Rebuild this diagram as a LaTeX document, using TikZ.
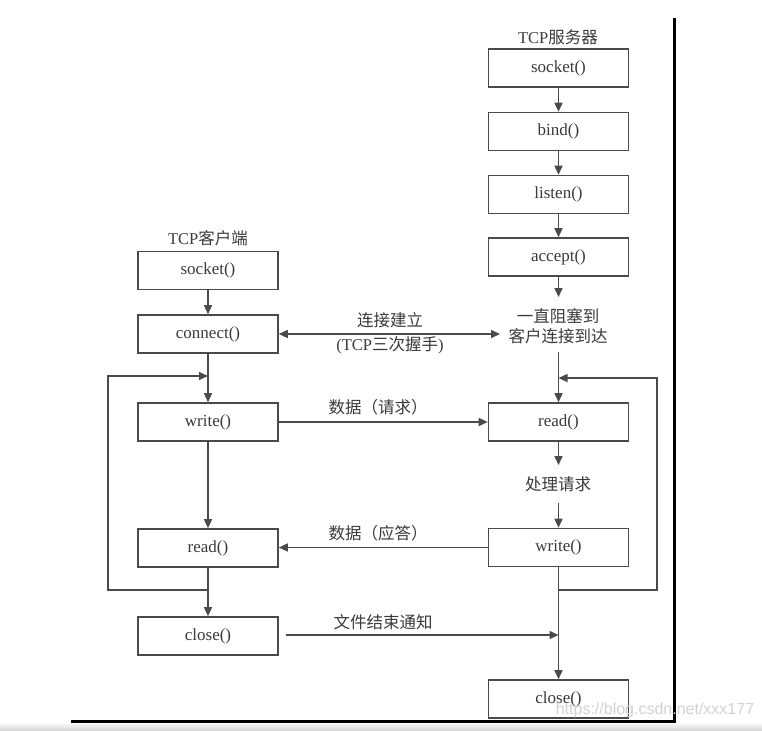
\documentclass[tikz,border=0pt]{standalone}
\usepackage{fontspec}
\setmainfont{Liberation Serif}
\newfontfamily\cjk{Noto Sans CJK SC}
\newfontfamily\wmfont{Liberation Sans}
\usetikzlibrary{arrows.meta}
\definecolor{ink}{HTML}{3A3A3A}
\definecolor{ln}{HTML}{4A4A4A}
\begin{document}
\begin{tikzpicture}[x=1pt,y=-1pt,
  fnbox/.style={draw=ln,line width=1.6pt,minimum width=140pt,minimum height=38pt,inner sep=0pt,text=ink,font=\fontsize{17}{19}\selectfont},
  lbl/.style={text=ink,inner sep=1pt,font=\fontsize{16.5}{20}\selectfont,align=center},
  conn/.style={draw=ln,line width=1.5pt},
  arr/.style={conn,-{Triangle[length=9pt,width=8pt]}},
  darr/.style={conn,{Triangle[length=9pt,width=8pt]}-{Triangle[length=9pt,width=8pt]}}
]
\useasboundingbox (0,0) rectangle (762,730);
\fill[white] (0,0) rectangle (762,730);
\shade[top color=gray!8,bottom color=gray!30] (0,724) rectangle (762,730);

% frame lines
\coordinate (fA) at (72,721);
\coordinate (fB) at (674,721);
\coordinate (fC) at (674,20);
\draw[line width=3pt,black,line cap=rect] (fA) -- (fB) -- (fC);

% server
\node[lbl] (stitle) at (558,37) {TCP{\cjk 服务器}};
\node[fnbox] (ssocket) at (558.5,68) {socket()};
\node[fnbox] (sbind) at (558.5,131.5) {bind()};
\node[fnbox] (slisten) at (558.5,194.5) {listen()};
\node[fnbox] (saccept) at (558.5,257) {accept()};
\node[lbl] (sblock) at (558,326) {\cjk 一直阻塞到\\\cjk 客户连接到达};
\node[fnbox] (sread) at (558.5,422) {read()};
\node[lbl] (sproc) at (558,484) {\cjk 处理请求};
\node[fnbox] (swrite) at (558.5,547.5) {write()};
\node[fnbox] (sclose) at (558.5,699) {close()};

% client
\node[lbl] (ctitle) at (208,238) {TCP{\cjk 客户端}};
\node[fnbox] (csocket) at (208,270.5) {socket()};
\node[fnbox] (cconnect) at (208,334) {connect()};
\node[fnbox] (cwrite) at (208,422) {write()};
\node[fnbox] (cread) at (208,548) {read()};
\node[fnbox] (cclose) at (208,636) {close()};

% server vertical flow
\draw[arr] (ssocket) -- (sbind);
\draw[arr] (sbind) -- (slisten);
\draw[arr] (slisten) -- (saccept);
\coordinate (sa1) at (558.5,297);
\draw[arr] (saccept) -- (sa1);
\coordinate (sa2) at (558.5,352);
\draw[arr] (sa2) -- (sread);
\coordinate (sp1) at (558.5,465);
\draw[arr] (sread) -- (sp1);
\coordinate (sp2) at (558.5,503);
\draw[arr] (sp2) -- (swrite);
\draw[arr] (swrite) -- (sclose);

% server loop
\coordinate (sl0) at (558.5,590);
\coordinate (sl1) at (657,590);
\coordinate (sl2) at (657,378);
\coordinate (sl3) at (558.5,378);
\draw[arr] (sl0) -- (sl1) -- (sl2) -- (sl3);

% client vertical flow
\draw[arr] (csocket) -- (cconnect);
\draw[arr] (cconnect) -- (cwrite);
\draw[arr] (cwrite) -- (cread);
\draw[arr] (cread) -- (cclose);

% client loop
\coordinate (cl0) at (208,590);
\coordinate (cl1) at (108,590);
\coordinate (cl2) at (108,376);
\coordinate (cl3) at (208,376);
\draw[arr] (cl0) -- (cl1) -- (cl2) -- (cl3);

% messages
\coordinate (m1) at (500,334);
\draw[darr] (cconnect.east) -- (m1);
\node[lbl] (m1a) at (390,320) {\cjk 连接建立};
\node[lbl] (m1b) at (390,345) {(TCP{\cjk 三次握手})};

\draw[arr] (cwrite.east) -- (sread.west);
\node[lbl] (m2) at (378,407) {\cjk 数据（请求）};

\draw[arr] (swrite.west) -- (swrite.west -| cread.east);
\node[lbl] (m3) at (378,533) {\cjk 数据（应答）};

\coordinate (m4a) at (286,635);
\coordinate (m4b) at (558.5,635);
\draw[arr] (m4a) -- (m4b);
\node[lbl] (m4) at (383,622) {\cjk 文件结束通知};

% watermark
\node[text=gray!35,font=\wmfont\fontsize{16}{18}\selectfont,inner sep=0pt] (wm) at (655,710) {https://blog.csdn.net/xxx177};
\end{tikzpicture}
\end{document}
